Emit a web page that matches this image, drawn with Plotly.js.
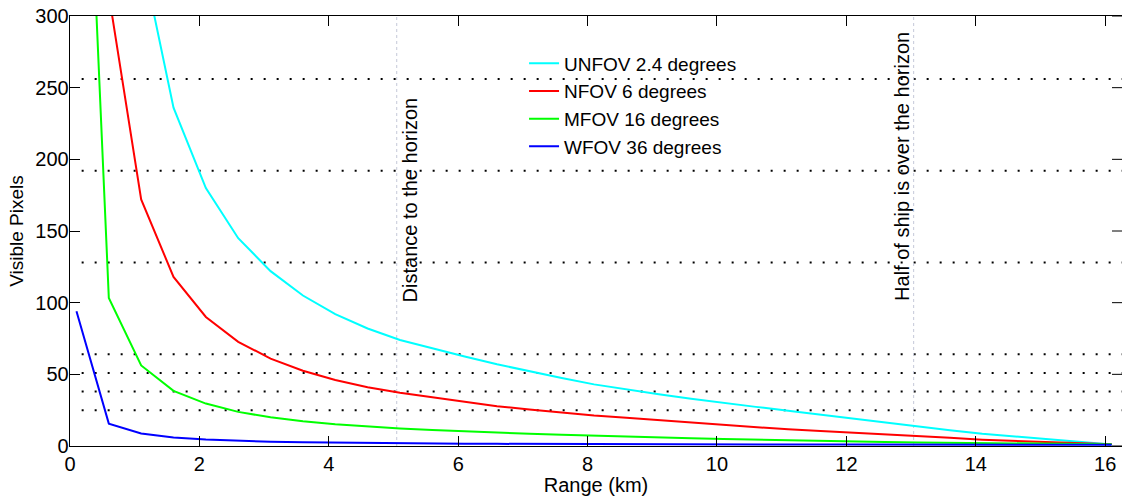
<!DOCTYPE html>
<html>
<head>
<meta charset="utf-8">
<script src="https://cdn.plot.ly/plotly-3.0.1.min.js"></script>
<style>
html,body{margin:0;padding:0;overflow:hidden;background:#fff;}
#chart{width:1122px;height:496px;}
</style>
</head>
<body>
<div id="chart"></div>
<script>
// Range samples (km)
const rangeKm = [0.1,0.6,1.1,1.6,2.1,2.6,3.1,3.6,4.1,4.6,5.1,5.6,6.1,6.6,7.1,7.6,8.1,8.6,9.1,9.6,10.1,10.6,11.1,11.6,12.1,12.6,13.1,13.6,14.1,14.6,15.1,15.6,16.1];

// Visible pixels per field of view
const unfov = [3780,630,344,236,180,145,122,105,92,82,74,68,62.5,57,52,47.5,43,39.4,36.1,33,29.9,27.3,24.6,21.8,18.9,16.2,13.6,11,8.5,6.6,4.8,2.9,1.1];
const nfov  = [1890,315,172,118,90,72.7,61,52.5,46,41,37.2,34,30.6,27.8,25.5,23.3,21.3,19.7,18,16.5,14.7,13.1,11.6,10.4,9.3,8.4,7,5.7,4.4,3.6,2.8,2,1.2];
const mfov  = [620,103.3,56.2,38.5,29.6,23.8,20,17.2,15.1,13.5,12.2,11.1,10.1,9.2,8.5,7.8,7.1,6.4,5.9,5.4,4.9,4.4,3.9,3.5,3.1,2.8,2.5,2.2,2,1.8,1.6,1.4,1.2];
const wfov  = [94,15.6,8.7,5.9,4.5,3.6,3,2.6,2.3,2,1.85,1.7,1.6,1.5,1.4,1.35,1.3,1.25,1.2,1.15,1.1,1.07,1.04,1.01,0.98,0.95,0.92,0.9,0.88,0.86,0.84,0.82,0.8];

const seriesNames = ["UNFOV 2.4 degrees","NFOV 6 degrees","MFOV 16 degrees","WFOV 36 degrees"];
const seriesColors = ["#00FFFF","#FF0000","#00FF00","#0000FF"];
const seriesValues = [unfov, nfov, mfov, wfov];

// Horizontal dotted reference levels (pixels)
const pixelLevels = [256,192,128,64,51,38,25];

// Vertical markers (km) and their labels
const markerKm = [5.05, 13.04];
const markerLabels = ["Distance to the horizon","Half of ship is over the horizon"];

const xTicks = [0,2,4,6,8,10,12,14,16];
const yTicks = [0,50,100,150,200,250,300];

const FONT = '"Liberation Sans", Arial, Helvetica, sans-serif';

const traces = seriesValues.map((vals,i)=>({
  type:'scatter', mode:'lines', x: rangeKm, y: vals, name: seriesNames[i],
  line:{color: seriesColors[i], width: 2}
}));

const shapes = [];
pixelLevels.forEach(v=>{
  shapes.push({type:'line', xref:'x', yref:'y', x0:0.18, x1:16.3, y0:v, y1:v,
    line:{color:'#000', width:2, dash:'2px,11px'}, layer:'below'});
});
markerKm.forEach(k=>{
  shapes.push({type:'line', xref:'x', yref:'y', x0:k, x1:k, y0:0, y1:300,
    line:{color:'#c4c8d8', width:1, dash:'dot'}, layer:'below'});
});
// inward tick marks on the right edge (the right frame line itself lies off-picture)
yTicks.forEach(v=>{
  shapes.push({type:'line', xref:'paper', yref:'y', x0:1, x1:1, xshift:0, y0:v, y1:v,
    line:{color:'#000', width:1}, layer:'above'});
});

const annotations = [
  {x: 5.27, y: 172, xref:'x', yref:'y', text: markerLabels[0], textangle:-90, showarrow:false,
   xanchor:'center', yanchor:'middle', font:{family:FONT, size:20, color:'#000'}},
  {x: 12.85, y: 195, xref:'x', yref:'y', text: markerLabels[1], textangle:-90, showarrow:false,
   xanchor:'center', yanchor:'middle', font:{family:FONT, size:20, color:'#000'}}
];

const layout = {
  width:1122, height:496,
  margin:{l:70, r:0, t:16, b:50},
  paper_bgcolor:'#fff', plot_bgcolor:'#fff',
  font:{family:FONT, size:20, color:'#000'},
  showlegend:true,
  legend:{x:0.4316, y:0.934, xanchor:'left', yanchor:'top', bgcolor:'rgba(0,0,0,0)',
    borderwidth:0, font:{family:FONT, size:19, color:'#000'}, tracegroupgap:0},
  xaxis:{range:[0,16.26], tickvals:xTicks, ticktext:xTicks.map(String), ticks:'inside', ticklen:10,
    tickwidth:1, tickcolor:'#000', showline:true, linecolor:'#000', linewidth:1.3, mirror:'ticks',
    showgrid:false, zeroline:false, tickfont:{family:FONT,size:20,color:'#000'},
    title:{text:'Range (km)', font:{family:FONT,size:20,color:'#000'}, standoff:2}},
  yaxis:{range:[0,300], tickvals:yTicks, ticktext:yTicks.map(String), ticks:'inside', ticklen:10,
    tickwidth:1, tickcolor:'#000', showline:true, linecolor:'#000', linewidth:1.3, mirror:false,
    showgrid:false, zeroline:false, tickfont:{family:FONT,size:20,color:'#000'}, ticklabelstandoff:-4,
    title:{text:'Visible Pixels', font:{family:FONT,size:19,color:'#000'}, standoff:6}},
  shapes: shapes,
  annotations: annotations
};

// right-edge ticks: 10px inward from the plot's right edge, expressed via paper fraction
const plotW = layout.width - layout.margin.l - layout.margin.r;
layout.shapes.forEach(s=>{ if (s.xref==='paper') { s.x0 = 1 - 10/plotW; s.x1 = 1; delete s.xshift; } });

Plotly.newPlot('chart', traces, layout, {displayModeBar:false, staticPlot:true});
</script>
</body>
</html>
